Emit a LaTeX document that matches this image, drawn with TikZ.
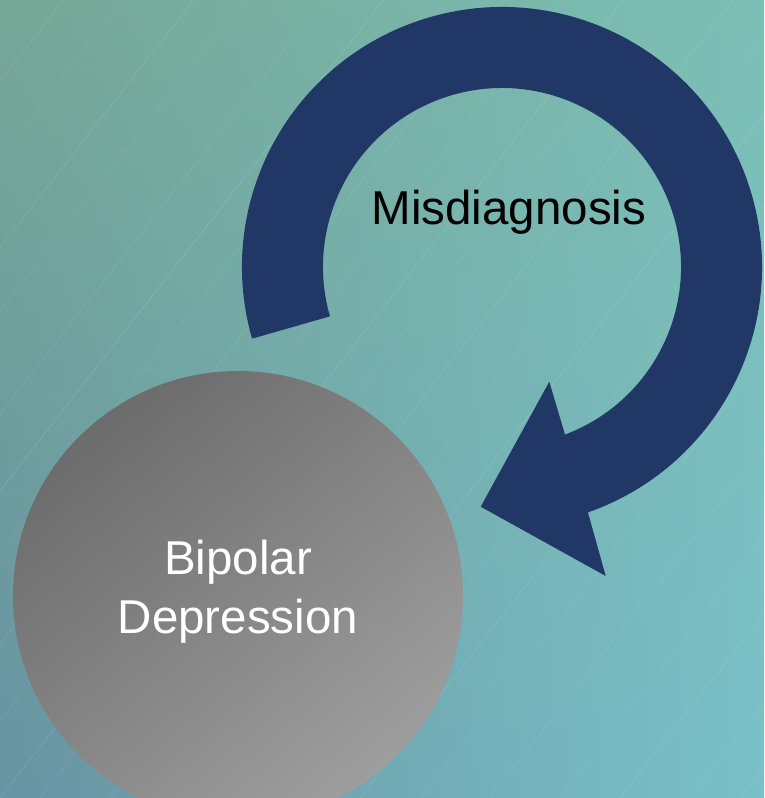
\documentclass[tikz,border=0pt]{standalone}
\usepackage{fontspec}
\setmainfont{Liberation Sans}
\usetikzlibrary{calc}

\definecolor{navy}{HTML}{213866}
% background tones: left/right columns, top/middle/bottom
\definecolor{bgTL}{RGB}{118,167,150}
\definecolor{bgML}{RGB}{111,160,162}
\definecolor{bgBL}{RGB}{104,148,163}
\definecolor{bgTR}{RGB}{124,191,181}
\definecolor{bgMR}{RGB}{126,198,202}
\definecolor{bgBR}{RGB}{122,192,201}
\definecolor{discdark}{HTML}{6C6C6C}
\definecolor{disclight}{HTML}{9E9E9E}

\tikzset{
  bigtext/.style={font=\fontsize{47.5}{59}\selectfont, inner sep=0pt},
  disc/.style={circle, minimum size=450pt, inner sep=0pt,
    top color=discdark, bottom color=disclight, shading angle=40},
  cyclearrow/.style={fill=navy, draw=none},
  streak/.style={white, line width=0.9pt}
}

\begin{document}
\begin{tikzpicture}[x=1pt, y=1pt]
  \useasboundingbox (0,0) rectangle (764,-798);

  \begin{scope}
    \clip (0,0) rectangle (764,-798);
    % background built from narrow vertical strips, blending the columns
    \foreach \i in {0,...,63}{
      \pgfmathsetmacro\p{100*\i/63}
      \colorlet{stT}{bgTR!\p!bgTL}
      \colorlet{stM}{bgMR!\p!bgML}
      \colorlet{stB}{bgBR!\p!bgBL}
      \shade[top color=stT, middle color=stM, bottom color=stB]
        (\i*12,0) rectangle (\i*12+12.6,-798);
    }

    % faint diagonal streaks
    \foreach \s/\o in {-620/0.06, -560/0.08, -500/0.05, -430/0.09, -380/0.06,
                       -300/0.07, -240/0.10, -190/0.06, -120/0.08, -60/0.06,
                       0/0.09, 40/0.06, 110/0.08, 170/0.05, 230/0.09,
                       300/0.06, 360/0.08, 420/0.06, 490/0.07, 560/0.06,
                       620/0.08, 690/0.06, 740/0.07}
      \draw[streak, opacity=\o] (\s,-798) -- ++(52:1400pt);
  \end{scope}

  % circular arrow
  \coordinate (c) at (502,-267);
  \coordinate (headlow) at (605.7,-576);
  \coordinate (tip) at (480.7,-506.7);
  \coordinate (headup) at (549.3,-381.7);
  \fill[cyclearrow]
    ($(c)+(196:260pt)$) arc[start angle=196, end angle=-70.7, radius=260pt]
    -- (headlow) -- (tip) -- (headup)
    -- ($(c)+(-69.4:179pt)$) arc[start angle=-69.4, end angle=196, radius=179pt]
    -- cycle;
  \node[bigtext, anchor=base, text=black] (mis) at (509,-224) {Misdiagnosis};

  % disc
  \node[disc] (bd) at (238,-596) {};
  \node[bigtext, align=center, text=white] (bdtext) at (238,-592) {Bipolar\\Depression};
\end{tikzpicture}
\end{document}
